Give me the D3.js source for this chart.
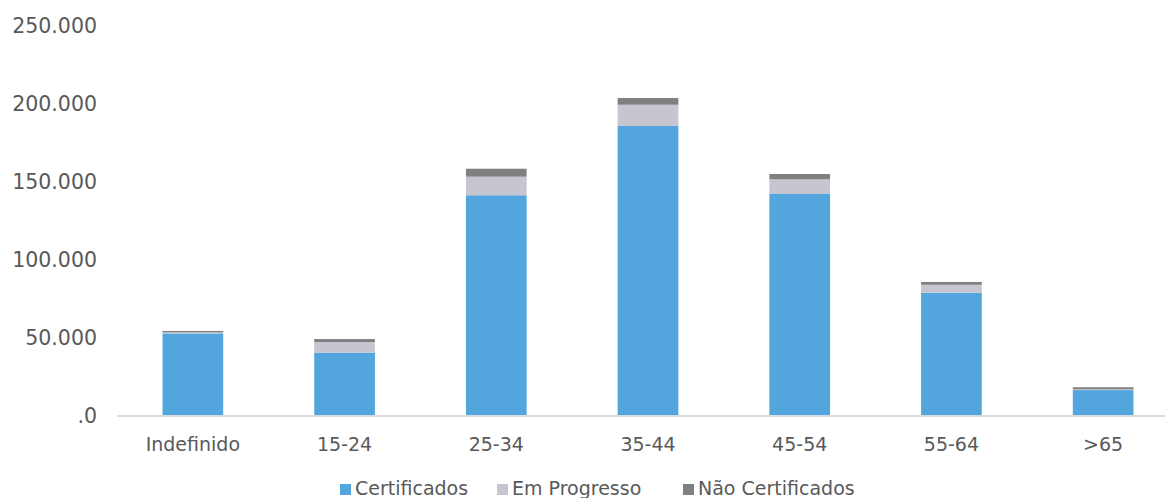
<!DOCTYPE html>
<html>
<head>
<meta charset="utf-8">
<script src="https://cdn.jsdelivr.net/npm/d3@7"></script>
<style>
  body { margin: 0; background: #fff; }
  svg { display: block; }
  .text { font-family: "DejaVu Sans", sans-serif; fill: #595959; }
</style>
</head>
<body>
<div class="chart"></div>
<script>
// age groups
var categories = ['Indefinido', '15-24', '25-34', '35-44', '45-54', '55-64', '>65'];
var seriesNames = ['Certificados', 'Em Progresso', 'Não Certificados'];
var certificados = [52600, 40300, 141200, 185600, 142000, 78700, 16300];
var emProgresso = [700, 6800, 11900, 13600, 9400, 5100, 500];
var naoCertificados = [900, 1900, 5100, 4300, 3400, 1800, 1300];
var yTicks = [0, 50000, 100000, 150000, 200000, 250000];

var colors = ['#52a6dd', '#c5c6cf', '#808080'];

var width = 1165,
    height = 498;

var svg = d3.select(".chart")
    .append("svg")
    .attr("width", width)
    .attr("height", height);

var table = categories.map(function(c, i) {
    return { cat: c, 'Certificados': certificados[i], 'Em Progresso': emProgresso[i], 'Não Certificados': naoCertificados[i] };
});
var stacked = d3.stack().keys(seriesNames)(table);

var x = d3.scaleBand()
    .domain(categories)
    .range([117, 1179])
    .padding(0);
var barW = x.bandwidth() * 0.4;

var y = d3.scaleLinear()
    .domain([0, 250000])
    .range([415.5, 25.5]);

// y labels
svg.append("g")
    .selectAll("text")
    .data(yTicks)
    .enter()
    .append("text")
    .attr('class', 'text')
    .attr("x", 97)
    .attr("y", function(d) { return y(d); })
    .attr("dy", "0.35em")
    .attr("text-anchor", "end")
    .style("font-size", "20.5px")
    .text(function(d) { return d === 0 ? ".0" : d3.format(",")(d).replace(/,/g, "."); });

// bars
svg.selectAll("g.layer")
    .data(stacked)
    .enter()
    .append("g")
    .attr("class", "layer")
    .attr("fill", function(d, i) { return colors[i]; })
    .selectAll("rect")
    .data(function(d) { return d; })
    .enter()
    .append("rect")
    .attr("x", function(d) { return x(d.data.cat) + (x.bandwidth() - barW) / 2; })
    .attr("y", function(d) { return y(d[1]); })
    .attr("width", barW)
    .attr("height", function(d) { return y(d[0]) - y(d[1]); });

// x axis line
svg.append("line")
    .attr("x1", 117)
    .attr("x2", width)
    .attr("y1", y(0) + 0.5)
    .attr("y2", y(0) + 0.5)
    .style("stroke", "#d9d9e0")
    .style("stroke-width", 2);

// category labels
svg.append("g")
    .selectAll("text")
    .data(categories)
    .enter()
    .append("text")
    .attr('class', 'text')
    .attr("x", function(d) { return x(d) + x.bandwidth() / 2; })
    .attr("y", 444)
    .attr("dy", "0.35em")
    .attr("text-anchor", "middle")
    .style("font-size", "19px")
    .text(function(d) { return d; });

// legend
var legendX = [340, 497, 683];
var legend = svg.append("g")
    .selectAll("g")
    .data(seriesNames)
    .enter()
    .append("g")
    .attr("transform", function(d, i) { return "translate(" + legendX[i] + ",488)"; });

legend.append("rect")
    .attr("x", 0)
    .attr("y", -4)
    .attr("width", 11)
    .attr("height", 11)
    .attr("fill", function(d, i) { return colors[i]; });

legend.append("text")
    .attr('class', 'text')
    .attr("x", 15)
    .attr("y", 0)
    .attr("dy", "0.35em")
    .style("font-size", "19px")
    .text(function(d) { return d; });
</script>
</body>
</html>
